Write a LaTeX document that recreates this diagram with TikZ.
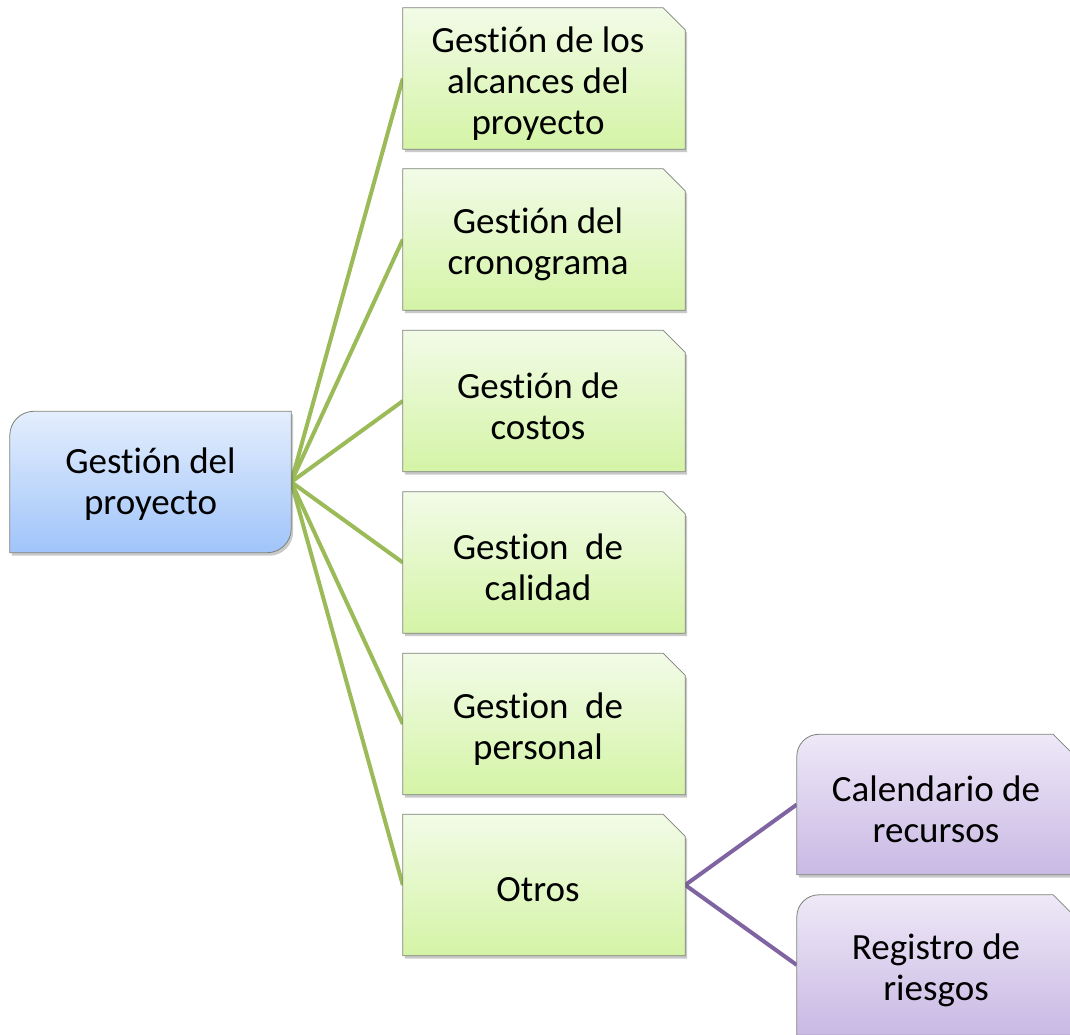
\documentclass[tikz,border=0pt]{standalone}
\usepackage{fontspec}
\setmainfont{Carlito}[Ligatures={NoCommon,NoContextual}]
\usetikzlibrary{shadows}
\pgfdeclarelayer{background}
\pgfsetlayers{background,main}
\newcommand{\myti}{t\kern0pt i}
\definecolor{greentop}{RGB}{242,251,231}
\definecolor{greenbot}{RGB}{212,244,166}
\definecolor{bluetop}{RGB}{228,238,253}
\definecolor{bluebot}{RGB}{160,196,250}
\definecolor{purptop}{RGB}{238,232,247}
\definecolor{purpbot}{RGB}{201,185,228}
\definecolor{boxborder}{RGB}{125,130,120}
\definecolor{greenline}{RGB}{155,187,89}
\definecolor{purpline}{RGB}{128,100,162}
\tikzset{
  txt/.style={inner sep=0pt, align=center, font=\fontsize{37}{41}\selectfont},
  gbox/.style={inner sep=0pt, minimum width=282pt, minimum height=141pt},
  pbox/.style={inner sep=0pt, minimum width=278pt, minimum height=140pt},
  rbox/.style={inner sep=0pt, minimum width=281pt, minimum height=141pt},
  shp/.style={draw=boxborder, line width=0.8pt,
    drop shadow={shadow xshift=2pt, shadow yshift=-3pt, opacity=0.3, fill=black!70}},
  gshape/.style={shp, top color=greentop, bottom color=greenbot},
  bshape/.style={shp, top color=bluetop, bottom color=bluebot},
  pshape/.style={shp, top color=purptop, bottom color=purpbot},
  gconn/.style={draw=greenline, line width=4pt},
  pconn/.style={draw=purpline, line width=4pt},
}
\newcommand{\mysnipbox}[2]{%
  \path[#2] (#1.north west) -- ([xshift=-22pt]#1.north east) -- ([yshift=-22pt]#1.north east)
    -- (#1.south east) -- (#1.south west) -- cycle;}
\newcommand{\myrootbox}[2]{%
  \path[#2] (#1.south west) -- ([yshift=-24pt]#1.north west)
    arc[start angle=180, end angle=90, radius=24pt] -- (#1.north east)
    -- ([yshift=24pt]#1.south east) arc[start angle=0, end angle=-90, radius=24pt] -- cycle;}
\newcommand{\myroundsnipbox}[2]{%
  \path[#2] (#1.south west) -- ([yshift=-22pt]#1.north west)
    arc[start angle=180, end angle=90, radius=22pt] -- ([xshift=-22pt]#1.north east)
    -- ([yshift=-22pt]#1.north east) -- (#1.south east) -- cycle;}
\begin{document}
\begin{tikzpicture}[x=1pt, y=-1pt]
\useasboundingbox (0,0) rectangle (1070,1034);
\node[rbox] (root) at (150.5,482) {};
\node[gbox] (g1) at (544,78.5) {};
\node[gbox] (g2) at (544,239.5) {};
\node[gbox] (g3) at (544,401) {};
\node[gbox] (g4) at (544,562.5) {};
\node[gbox] (g5) at (544,724) {};
\node[gbox] (g6) at (544,885) {};
\node[pbox] (p1) at (936,804.5) {};
\node[pbox] (p2) at (936,965) {};
\node[txt] (roott) at ([yshift=-2pt]root.center) {Ges\myti ón del\\proyecto};
\node[txt] (g1t) at ([xshift=-6pt,yshift=-5pt]g1.center) {Ges\myti ón de los\\alcances del\\proyecto};
\node[txt] (g2t) at ([xshift=-6pt,yshift=-5pt]g2.center) {Ges\myti ón del\\cronograma};
\node[txt] (g3t) at ([xshift=-6pt,yshift=-5pt]g3.center) {Ges\myti ón de\\costos};
\node[txt] (g4t) at ([xshift=-6pt,yshift=-5pt]g4.center) {Ges\myti on\ \ de\\calidad};
\node[txt] (g5t) at ([xshift=-6pt,yshift=-5pt]g5.center) {Ges\myti on\ \ de\\personal};
\node[txt] (g6t) at ([xshift=-6pt,yshift=-5pt]g6.center) {Otros};
\node[txt] (p1t) at ([yshift=-5pt]p1.center) {Calendario de\\recursos};
\node[txt] (p2t) at ([yshift=-5pt]p2.center) {Registro de\\riesgos};
\begin{pgfonlayer}{background}
  \foreach \g in {g1,g2,g3,g4,g5,g6} {\draw[gconn] (root.east) -- (\g.west);}
  \draw[pconn] (g6.east) -- (p1.west);
  \draw[pconn] (g6.east) -- (p2.west);
  \myrootbox{root}{bshape}
  \foreach \g in {g1,g2,g3,g4,g5,g6} {\mysnipbox{\g}{gshape}}
  \myroundsnipbox{p1}{pshape}
  \myroundsnipbox{p2}{pshape}
\end{pgfonlayer}
\end{tikzpicture}
\end{document}
